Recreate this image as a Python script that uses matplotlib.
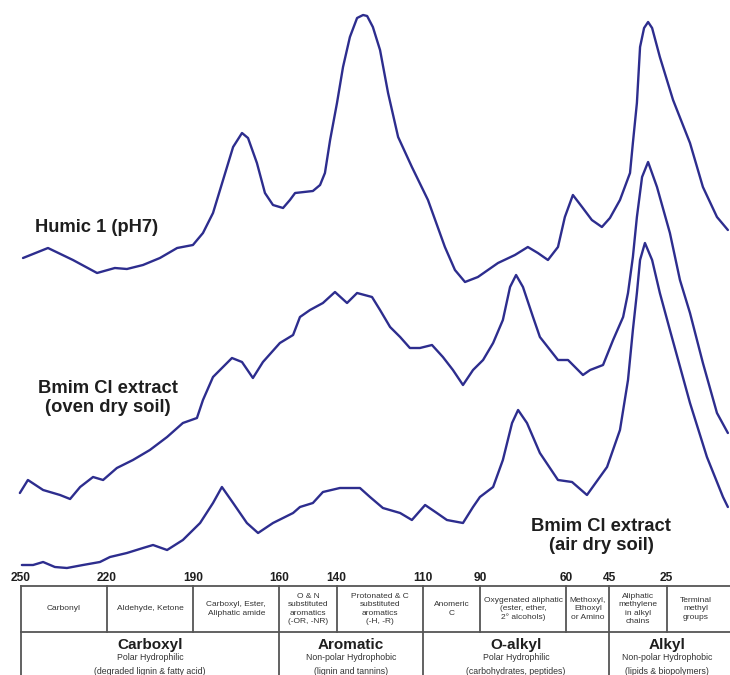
import matplotlib
matplotlib.use("Agg")
import matplotlib.pyplot as plt

# ---------------- data (chemical shift ppm, intensity a.u.) ----------------
humic_ppm = [249.3, 240.6, 231.9, 223.5, 217.3, 213.1, 207.5, 201.6, 195.6, 190.1,
             186.6, 183.1, 179.6, 176.1, 173.0, 170.9, 167.8, 165.0, 162.2, 158.7,
             156.3, 154.5, 148.3, 145.8, 144.1, 142.3, 139.9, 137.8, 135.4, 132.9,
             130.8, 129.4, 127.4, 124.9, 122.1, 118.6, 113.8, 108.2, 102.3, 98.8,
             95.3, 90.8, 83.8, 77.9, 73.4, 69.9, 66.4, 62.9, 60.5, 57.7,
             54.5, 51.1, 47.6, 44.8, 41.3, 37.8, 36.8, 35.4, 34.3, 32.9,
             31.5, 30.1, 27.4, 22.8, 16.9, 12.4, 7.5, 3.7]
humic_int = [342, 352, 340, 327, 332, 331, 335, 342, 352, 355,
             367, 387, 420, 453, 467, 462, 437, 407, 395, 392,
             400, 407, 409, 415, 427, 460, 497, 533, 563, 582,
             585, 584, 573, 550, 507, 463, 433, 400, 353, 330,
             318, 323, 337, 345, 353, 347, 340, 353, 383, 405,
             393, 380, 373, 382, 400, 427, 457, 497, 553, 572,
             578, 572, 543, 500, 457, 413, 383, 370]

oven_ppm = [250.4, 247.6, 242.3, 236.4, 232.9, 229.4, 224.9, 221.4, 216.6, 211.0,
            205.1, 199.1, 193.6, 188.7, 186.6, 183.1, 176.5, 173.0, 169.2, 165.7,
            159.8, 155.2, 152.8, 149.3, 144.8, 140.6, 136.4, 132.9, 127.7, 124.9,
            121.4, 117.9, 114.5, 111.0, 106.8, 103.0, 99.5, 96.0, 92.5, 89.0,
            85.5, 82.1, 79.6, 77.5, 75.1, 71.6, 69.2, 62.9, 59.4, 54.2,
            51.7, 47.2, 43.7, 40.2, 38.5, 36.8, 35.4, 33.6, 31.5, 28.4,
            23.9, 20.4, 16.9, 12.4, 7.5, 3.7]
oven_int = [107, 120, 110, 105, 101, 113, 123, 120, 132, 140,
            150, 163, 177, 182, 200, 223, 242, 238, 222, 238,
            257, 265, 283, 290, 297, 308, 297, 307, 303, 290,
            273, 263, 252, 252, 255, 243, 230, 215, 230, 240,
            257, 280, 313, 325, 313, 283, 263, 240, 240, 225,
            230, 235, 260, 283, 307, 343, 383, 423, 438, 413,
            367, 320, 287, 237, 187, 167]

air_ppm = [249.7, 245.8, 242.3, 238.2, 234.0, 228.4, 222.5, 219.0, 213.1, 207.5,
           204.0, 199.1, 193.6, 187.6, 183.1, 180.0, 176.1, 171.3, 167.4, 162.2,
           155.2, 152.8, 148.3, 144.8, 138.9, 131.9, 128.4, 123.9, 117.9, 113.8,
           109.2, 105.1, 101.6, 96.0, 92.5, 90.1, 85.5, 82.1, 78.9, 76.8,
           73.7, 69.2, 62.9, 58.0, 52.8, 45.8, 41.3, 38.5, 36.8, 35.4,
           34.3, 32.6, 30.1, 27.4, 23.9, 16.9, 11.0, 5.4, 3.7]
air_int = [35, 35, 38, 33, 32, 35, 38, 43, 47, 52,
           55, 50, 60, 77, 97, 113, 97, 77, 67, 77,
           87, 93, 97, 108, 112, 112, 103, 92, 87, 80,
           95, 87, 80, 77, 93, 103, 113, 140, 177, 190,
           177, 147, 120, 118, 105, 133, 170, 220, 270, 307,
           340, 357, 340, 307, 270, 197, 143, 103, 93]

tick_values = [250, 220, 190, 160, 140, 110, 90, 60, 45, 25]
tick_labels = ["250", "220", "190", "160", "140", "110", "90", "60", "45", "25"]

region_bounds = [250, 220, 190, 160, 140, 110, 90, 60, 45, 25, 5]
region_names = ["Carbonyl", "Aldehyde, Ketone", "Carboxyl, Ester,\nAliphatic amide",
                "O & N\nsubstituted\naromatics\n(-OR, -NR)",
                "Protonated & C\nsubstituted\naromatics\n(-H, -R)",
                "Anomeric\nC", "Oxygenated aliphatic\n(ester, ether,\n2° alcohols)",
                "Methoxyl,\nEthoxyl\nor Amino", "Aliphatic\nmethylene\nin alkyl\nchains",
                "Terminal\nmethyl\ngroups"]

group_bounds = [250, 160, 110, 45, 5]
group_names = ["Carboxyl", "Aromatic", "O-alkyl", "Alkyl"]
group_polarity = ["Polar Hydrophilic", "Non-polar Hydrophobic",
                  "Polar Hydrophilic", "Non-polar Hydrophobic"]
group_examples = ["(degraded lignin & fatty acid)", "(lignin and tannins)",
                  "(carbohydrates, peptides)", "(lipids & biopolymers)"]

# ---------------- figure ----------------
fig = plt.figure(figsize=(7.3, 6.75), dpi=100)
ax = fig.add_axes([0, 0, 1, 1])
ax.set_xlim(257.32, 2.96)
ax.set_ylim(-75, 600)
ax.axis("off")

line_color = "#2d2d8e"
for xs, ys in [(humic_ppm, humic_int), (oven_ppm, oven_int), (air_ppm, air_int)]:
    ax.plot(xs, ys, color=line_color, lw=1.7, solid_joinstyle="round",
            solid_capstyle="round")

label_font = ["Liberation Sans", "DejaVu Sans"]
txt_color = "#1e1e1e"
ax.text(223.5, 372, "Humic 1 (pH7)", ha="center", va="center", fontsize=13.2,
        fontweight="bold", family=label_font, color=txt_color)
ax.text(219.7, 202, "Bmim Cl extract\n(oven dry soil)", ha="center", va="center",
        fontsize=13.2, fontweight="bold", family=label_font, color=txt_color,
        linespacing=1.1)
ax.text(47.9, 64, "Bmim Cl extract\n(air dry soil)", ha="center", va="center",
        fontsize=13.2, fontweight="bold", family=label_font, color=txt_color,
        linespacing=1.1)

# tick labels
for v, lab in zip(tick_values, tick_labels):
    ax.text(v, 22, lab, ha="center", va="center", fontsize=8.6, fontweight="bold",
            family=label_font, color=txt_color)

# ---------------- table ----------------
tcol = "#555555"
tlw = 1.3
y_top, y_mid, y_bot = 14, -32, -75
xr = ax.get_xlim()[1]
ax.plot([region_bounds[0], xr], [y_top, y_top], color=tcol, lw=tlw)
ax.plot([region_bounds[0], xr], [y_mid, y_mid], color=tcol, lw=tlw)
for b in region_bounds[:-1]:
    ax.plot([b, b], [y_top, y_mid], color=tcol, lw=tlw)
for b in group_bounds[:-1]:
    ax.plot([b, b], [y_mid, y_bot], color=tcol, lw=tlw)

small = ["Liberation Sans", "DejaVu Sans"]
for i, name in enumerate(region_names):
    xc = (region_bounds[i] + region_bounds[i + 1]) / 2
    ax.text(xc, -9, name, ha="center", va="center", fontsize=6.0,
            family=small, color="#333333", linespacing=1.3)

for i, name in enumerate(group_names):
    xc = (group_bounds[i] + group_bounds[i + 1]) / 2
    ax.text(xc, -45, name, ha="center", va="center", fontsize=11,
            fontweight="bold", family=small, color=txt_color)
    ax.text(xc, -58, group_polarity[i], ha="center", va="center", fontsize=6.3,
            family=small, color="#333333")
    ax.text(xc, -71, group_examples[i], ha="center", va="center", fontsize=6.3,
            family=small, color="#333333")

fig.savefig("out.png", dpi=100, facecolor="white")
